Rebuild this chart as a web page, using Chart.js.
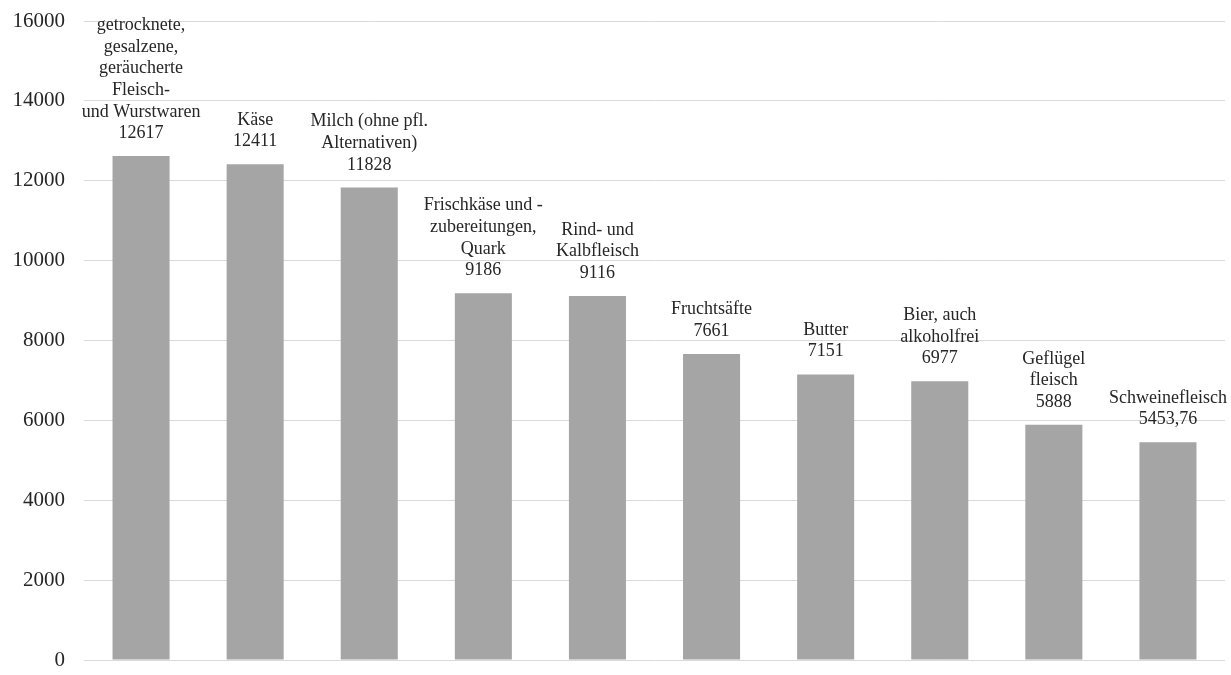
<!DOCTYPE html>
<html>
<head>
<meta charset="utf-8">
<script src="https://cdn.jsdelivr.net/npm/chart.js@4"></script>
<style>
  html, body { margin: 0; padding: 0; background: #ffffff; }
  #wrap { width: 1231px; height: 675px; position: relative; }
</style>
</head>
<body>
<div id="wrap"><canvas id="c"></canvas></div>
<script>
// Product categories (multi-line labels shown above each bar)
const categories = [
  ["getrocknete,", "gesalzene,", "geräucherte", "Fleisch-", "und Wurstwaren"],
  ["Käse"],
  ["Milch (ohne pfl.", "Alternativen)"],
  ["Frischkäse und -", "zubereitungen,", "Quark"],
  ["Rind- und", "Kalbfleisch"],
  ["Fruchtsäfte"],
  ["Butter"],
  ["Bier, auch", "alkoholfrei"],
  ["Geflügel", "fleisch"],
  ["Schweinefleisch"]
];
const values = [12617, 12411, 11828, 9186, 9116, 7661, 7151, 6977, 5888, 5453.76];
const yTicks = [0, 2000, 4000, 6000, 8000, 10000, 12000, 14000, 16000];

const SERIF = '"Liberation Serif", "Times New Roman", Times, serif';
const TEXT = '#262626';

function formatValue(v) {
  return String(v).replace('.', ',');
}

// Draws the category name and value stacked above each bar
const barLabels = {
  id: 'barLabels',
  afterDatasetsDraw(chart) {
    const ctx = chart.ctx;
    const meta = chart.getDatasetMeta(0);
    ctx.save();
    ctx.font = '18px ' + SERIF;
    ctx.fillStyle = TEXT;
    ctx.textAlign = 'center';
    ctx.textBaseline = 'alphabetic';
    const lineH = 21.6;
    meta.data.forEach((bar, i) => {
      const lines = categories[i].concat([formatValue(values[i])]);
      let y = bar.y - 18;
      for (let k = lines.length - 1; k >= 0; k--) {
        ctx.fillText(lines[k], bar.x, y);
        y -= lineH;
      }
    });
    ctx.restore();
  }
};

new Chart(document.getElementById('c'), {
  type: 'bar',
  data: {
    labels: categories.map(c => c.join(' ')),
    datasets: [{
      data: values,
      backgroundColor: '#A5A5A5',
      borderWidth: 0,
      barPercentage: 0.5,
      categoryPercentage: 1.0
    }]
  },
  options: {
    responsive: true,
    maintainAspectRatio: false,
    animation: false,
    layout: { padding: { top: 21, bottom: 15, right: 6, left: 0 } },
    plugins: {
      legend: { display: false },
      tooltip: { enabled: false }
    },
    scales: {
      x: { display: false },
      y: {
        min: 0,
        max: 16000,
        afterFit(scale) {
          scale.width = 84;
          scale.paddingTop = 0;
          scale.paddingBottom = 0;
        },
        afterBuildTicks(scale) { scale.ticks = yTicks.map(v => ({ value: v })); },
        border: { display: false },
        grid: { color: '#D9D9D9', lineWidth: 1, drawTicks: false },
        ticks: {
          padding: 19,
          color: TEXT,
          font: { family: SERIF, size: 21 },
          callback: v => String(v)
        }
      }
    }
  },
  plugins: [barLabels]
});
</script>
</body>
</html>
